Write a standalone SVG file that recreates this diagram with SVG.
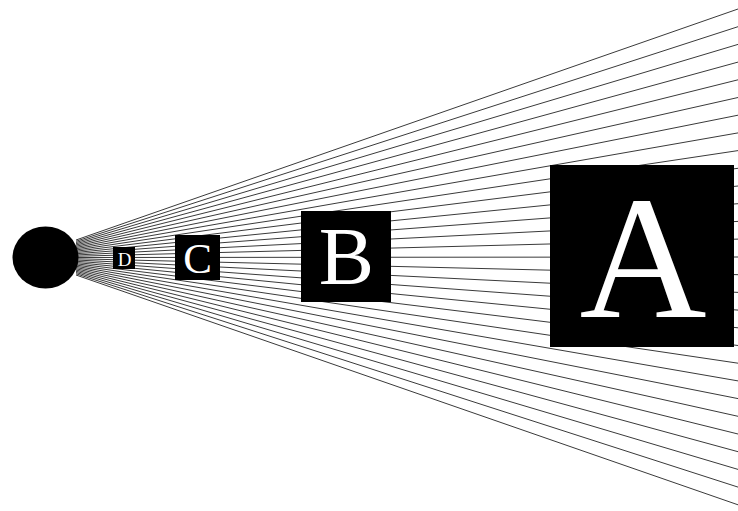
<svg xmlns="http://www.w3.org/2000/svg" width="738" height="511" viewBox="0 0 738 511">
<style>
.ray{stroke:#3a3a3a;stroke-width:1;fill:none}
.sq{fill:#000}
.lbl{fill:#fff;font-family:"Liberation Serif","Times New Roman",serif;text-anchor:middle}
</style>
<rect width="738" height="511" fill="#fff"/>
<g id="rays">
<line class="ray" x1="76" y1="240" x2="738" y2="9"/>
<line class="ray" x1="76" y1="241.25" x2="738" y2="26.7"/>
<line class="ray" x1="76" y1="242.5" x2="738" y2="44.4"/>
<line class="ray" x1="76" y1="243.75" x2="738" y2="62.1"/>
<line class="ray" x1="76" y1="245" x2="738" y2="79.8"/>
<line class="ray" x1="76" y1="246.25" x2="738" y2="97.5"/>
<line class="ray" x1="76" y1="247.5" x2="738" y2="115.2"/>
<line class="ray" x1="76" y1="248.75" x2="738" y2="132.9"/>
<line class="ray" x1="76" y1="250" x2="738" y2="150.6"/>
<line class="ray" x1="76" y1="251.25" x2="738" y2="168.3"/>
<line class="ray" x1="76" y1="252.5" x2="738" y2="186"/>
<line class="ray" x1="76" y1="253.75" x2="738" y2="203.7"/>
<line class="ray" x1="76" y1="255" x2="738" y2="221.4"/>
<line class="ray" x1="76" y1="256.25" x2="738" y2="239.1"/>
<line class="ray" x1="76" y1="257.5" x2="738" y2="257"/>
<line class="ray" x1="76" y1="258.75" x2="738" y2="274.7"/>
<line class="ray" x1="76" y1="260" x2="738" y2="292.4"/>
<line class="ray" x1="76" y1="261.25" x2="738" y2="310.1"/>
<line class="ray" x1="76" y1="262.5" x2="738" y2="327.8"/>
<line class="ray" x1="76" y1="263.75" x2="738" y2="345.5"/>
<line class="ray" x1="76" y1="265" x2="738" y2="363.2"/>
<line class="ray" x1="76" y1="266.25" x2="738" y2="380.9"/>
<line class="ray" x1="76" y1="267.5" x2="738" y2="398.6"/>
<line class="ray" x1="76" y1="268.75" x2="738" y2="416.3"/>
<line class="ray" x1="76" y1="270" x2="738" y2="434"/>
<line class="ray" x1="76" y1="271.25" x2="738" y2="451.7"/>
<line class="ray" x1="76" y1="272.5" x2="738" y2="469.4"/>
<line class="ray" x1="76" y1="273.75" x2="738" y2="487.1"/>
<line class="ray" x1="76" y1="275" x2="738" y2="504.8"/>
</g>
<g id="eye">
<ellipse cx="45.5" cy="257.5" rx="33" ry="31" fill="#000"/>
</g>
<g id="D">
<rect class="sq" x="113" y="247" width="22" height="22"/>
<text class="lbl" x="124.5" y="265.5" font-size="19">D</text>
</g>
<g id="C">
<rect class="sq" x="175" y="235" width="45" height="45"/>
<text class="lbl" x="197.5" y="272.5" font-size="43">C</text>
</g>
<g id="B">
<rect class="sq" x="301" y="211" width="90" height="91"/>
<text class="lbl" x="346.5" y="284" font-size="83">B</text>
</g>
<g id="A">
<rect class="sq" x="550" y="165" width="184" height="182"/>
<text class="lbl" x="643" y="317" font-size="176">A</text>
</g>
</svg>
